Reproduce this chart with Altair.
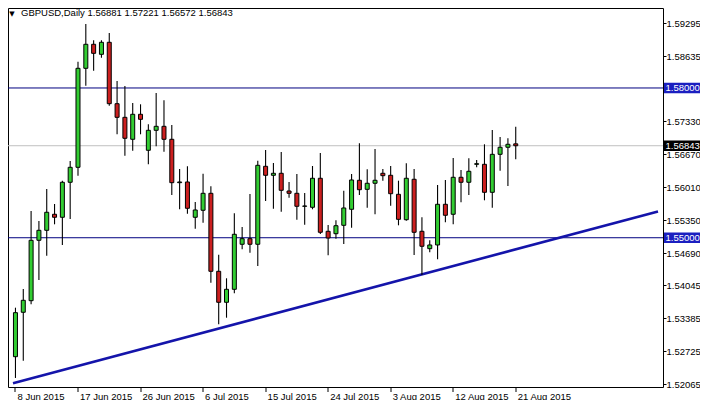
import altair as alt
import pandas as pd

# ---------------- data ----------------
bar_index = list(range(65))
opens = [1.52617, 1.53507, 1.53739, 1.54949, 1.55149, 1.55470, 1.55410, 1.56111, 1.56411, 1.58394,
         1.58875, 1.58674, 1.58915, 1.57685, 1.57412, 1.56972, 1.57473, 1.56752, 1.57152, 1.57232,
         1.56972, 1.56103, 1.56117, 1.55410, 1.55550, 1.55890, 1.54328, 1.53707, 1.53967, 1.54869,
         1.54981, 1.54869, 1.56431, 1.56251, 1.56291, 1.55936, 1.55890, 1.55630, 1.55610, 1.56191,
         1.55129, 1.55081, 1.55249, 1.55570, 1.56151, 1.55970, 1.56091, 1.56291, 1.56251, 1.55870,
         1.55361, 1.56171, 1.55129, 1.54781, 1.54855, 1.55670, 1.55470, 1.56211, 1.56111, 1.56471,
         1.56471, 1.55910, 1.56671, 1.56812, 1.56881]
highs = [1.53599, 1.53973, 1.55536, 1.55335, 1.55976, 1.55676, 1.56143, 1.56537, 1.58526, 1.59281,
         1.58955, 1.58955, 1.59101, 1.58140, 1.58039, 1.57699, 1.57673, 1.57272, 1.57899, 1.57753,
         1.57258, 1.56377, 1.56431, 1.55716, 1.56283, 1.56030, 1.54660, 1.54188, 1.55490, 1.55215,
         1.55876, 1.56543, 1.56757, 1.56497, 1.56717, 1.56117, 1.56277, 1.55896, 1.56437, 1.56697,
         1.55255, 1.55349, 1.55942, 1.56277, 1.56892, 1.56371, 1.56777, 1.56377, 1.56437, 1.56143,
         1.56491, 1.56377, 1.55410, 1.54949, 1.56056, 1.56157, 1.56597, 1.56357, 1.56591, 1.56557,
         1.56872, 1.57158, 1.57018, 1.56992, 1.57221]
lows = [1.52191, 1.52537, 1.53667, 1.54154, 1.54640, 1.55269, 1.54855, 1.55375, 1.56243, 1.58045,
        1.58346, 1.58606, 1.57645, 1.57072, 1.56643, 1.56744, 1.57072, 1.56471, 1.56832, 1.56723,
        1.55856, 1.55570, 1.55482, 1.55181, 1.55301, 1.54100, 1.53266, 1.53398, 1.53887, 1.54769,
        1.54700, 1.54434, 1.55736, 1.55582, 1.55522, 1.55802, 1.55362, 1.55261, 1.55570, 1.55075,
        1.54648, 1.54981, 1.54875, 1.55201, 1.55856, 1.55602, 1.55469, 1.56143, 1.55642, 1.55249,
        1.55340, 1.54654, 1.54254, 1.54709, 1.54568, 1.55309, 1.55269, 1.55710, 1.55856, 1.56411,
        1.55750, 1.55602, 1.56343, 1.56036, 1.56572]
closes = [1.53499, 1.53747, 1.54949, 1.55149, 1.55510, 1.55410, 1.56111, 1.56411, 1.58394, 1.58875,
          1.58694, 1.58915, 1.57685, 1.57412, 1.56992, 1.57473, 1.57372, 1.57152, 1.57232, 1.56972,
          1.56103, 1.56117, 1.55590, 1.55556, 1.55890, 1.54328, 1.53707, 1.53967, 1.55069, 1.54981,
          1.54869, 1.56451, 1.56251, 1.56291, 1.55950, 1.55890, 1.55630, 1.55636, 1.56191, 1.55109,
          1.54995, 1.55241, 1.55596, 1.56157, 1.55962, 1.56091, 1.56151, 1.56243, 1.55882, 1.55369,
          1.56191, 1.55109, 1.54829, 1.54855, 1.55670, 1.55450, 1.56211, 1.56111, 1.56331, 1.56483,
          1.55910, 1.56671, 1.56812, 1.56872, 1.56843]

date_tick_index = [0, 8, 16, 24, 32, 40, 48, 56, 64]
date_labels = ["8 Jun 2015", "17 Jun 2015", "26 Jun 2015", "6 Jul 2015", "15 Jul 2015",
               "24 Jul 2015", "3 Aug 2015", "12 Aug 2015", "21 Aug 2015"]
price_ticks = [1.59295, 1.58635, 1.57330, 1.56670, 1.56010, 1.55350, 1.54690,
               1.54045, 1.53385, 1.52725, 1.52065]

level_lines = [1.58000, 1.55000]
last_price = [1.56843]
trend_index = [-0.315, 82.2]
trend_price = [1.52085, 1.55526]

title_text = "GBPUSD,Daily  1.56881 1.57221 1.56572 1.56843"

# ---------------- styling ----------------
FONT = "Liberation Sans"
FS = 9.5
GREEN = "#32CD32"
RED = "#CC1F1F"
NAVY = "#000080"
LABEL_BLUE = "#1B1FC0"
TREND = "#1414AA"

df = pd.DataFrame({"i": bar_index, "open": opens, "high": highs, "low": lows, "close": closes})
up = df[df["close"] >= df["open"]]
down = df[df["close"] < df["open"]]

xs = alt.Scale(domain=[-0.315, 82.2], nice=False, zero=False)
ys = alt.Scale(domain=[1.52010, 1.59602], nice=False, zero=False)

label_expr = "[" + ",".join("'" + s + "'" for s in date_labels) + "][round(datum.value/8)]"

axis_x = alt.Axis(values=date_tick_index, labelExpr=label_expr, orient="bottom", grid=False,
                  domain=False, tickSize=5, tickColor="black", labelAlign="left",
                  labelBaseline="alphabetic", labelPadding=7.5, labelOffset=2, labelFont=FONT,
                  labelFontSize=FS, labelColor="black", labelOverlap=False, labelBound=False,
                  labelFlush=False, title=None, translate=0)
axis_y = alt.Axis(values=price_ticks, format=".5f", orient="right", grid=False, domain=False,
                  tickSize=3, tickColor="black", labelPadding=0, labelFont=FONT, labelFontSize=FS,
                  labelColor="black", labelOverlap=False, labelBound=False, labelFlush=False,
                  title=None, labelAlign="left", labelBaseline="middle")


def X(f):
    return alt.X(f, type="quantitative", scale=xs, axis=axis_x)


def Y(f):
    return alt.Y(f, type="quantitative", scale=ys, axis=axis_y)


levels = alt.Chart(pd.DataFrame({"price": level_lines})).mark_rule(
    color=NAVY, strokeWidth=1).encode(y=Y("price"))
lastline = alt.Chart(pd.DataFrame({"price": last_price})).mark_rule(
    color="#C0C0C0", strokeWidth=1).encode(y=Y("price"))
trend = alt.Chart(pd.DataFrame({"i": trend_index, "price": trend_price})).mark_line(
    color=TREND, strokeWidth=2.6, clip=True).encode(x=X("i"), y=Y("price"))

wicks = alt.Chart(df).mark_rule(color="black", strokeWidth=1.1).encode(
    x=X("i"), y=Y("low"), y2="high")
bodies_up = alt.Chart(up).mark_bar(size=4, stroke="black", strokeWidth=1, fill=GREEN).encode(
    x=X("i"), y=Y("open"), y2="close")
bodies_down = alt.Chart(down).mark_bar(size=4, stroke="black", strokeWidth=1, fill=RED).encode(
    x=X("i"), y=Y("open"), y2="close")

box_shape = "M-1,-0.29L1,-0.29L1,0.29L-1,0.29Z"
blue_df = pd.DataFrame({"price": level_lines, "label": [f"{p:.5f}" for p in level_lines]})
black_df = pd.DataFrame({"price": last_price, "label": [f"{p:.5f}" for p in last_price]})

box_blue = alt.Chart(blue_df).mark_point(shape=box_shape, filled=True, size=1296, opacity=1,
                                         fill=LABEL_BLUE, strokeWidth=0).encode(
    x=alt.value(674), y=Y("price"))
box_black = alt.Chart(black_df).mark_point(shape=box_shape, filled=True, size=1296, opacity=1,
                                           fill="black", strokeWidth=0).encode(
    x=alt.value(674), y=Y("price"))
text_blue = alt.Chart(blue_df).mark_text(align="left", baseline="middle", font=FONT, fontSize=FS,
                                         color="white").encode(
    x=alt.value(657.5), y=Y("price"), text="label:N")
text_black = alt.Chart(black_df).mark_text(align="left", baseline="middle", font=FONT, fontSize=FS,
                                           color="white").encode(
    x=alt.value(657.5), y=Y("price"), text="label:N")

title_df = pd.DataFrame({"t": [title_text], "tri": ["\u25BC"]})
title = alt.Chart(title_df).mark_text(align="left", baseline="middle", font=FONT, fontSize=FS,
                                      color="black").encode(
    x=alt.value(13), y=alt.value(5), text="t:N")
tri = alt.Chart(title_df).mark_text(align="center", baseline="middle", font="DejaVu Sans",
                                    fontSize=7, color="black").encode(
    x=alt.value(4), y=alt.value(5.5), text="tri:N")

chart = alt.layer(levels, lastline, trend, wicks, bodies_up, bodies_down,
                  box_blue, box_black, text_blue, text_black, title, tri).properties(
    width=655, height=379,
    padding={"left": 0, "top": 0, "right": 37, "bottom": 13},
    autosize=alt.AutoSizeParams(type="none"),
    background="white",
).configure_view(stroke="black", strokeWidth=1)

chart.save("out.html", embed_options={"renderer": "svg", "actions": False})
